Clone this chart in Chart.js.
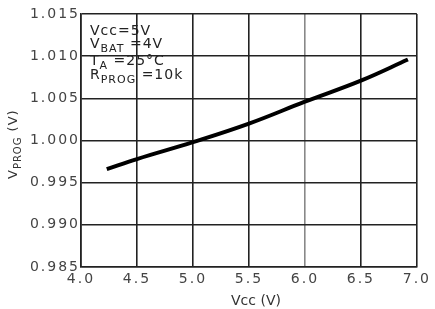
<!DOCTYPE html>
<html><head><meta charset="utf-8">
<script src="https://cdn.jsdelivr.net/npm/chart.js@4"></script>
<style>html,body{margin:0;padding:0;background:#fff}#c{display:block}</style>
</head><body>
<canvas id="c" width="435" height="309"></canvas>
<script>
const vcc = [4.23, 4.5, 5.0, 5.5, 6.0, 6.5, 6.92];
const vprog = [0.9966, 0.9978, 0.9998, 1.0020, 1.0046, 1.0071, 1.0096];
const xTicks = [4.0, 4.5, 5.0, 5.5, 6.0, 6.5, 7.0];
const yTicks = [0.985, 0.990, 0.995, 1.000, 1.005, 1.010, 1.015];
const xTitle = 'Vcc (V)';
const noteLines = [
  [{t:"Vcc=5V"}],
  [{t:"V"},{t:"BAT",s:1},{t:" =4V"}],
  [{t:"T"},{t:"A",s:1},{t:" =25°C"}],
  [{t:"R"},{t:"PROG",s:1},{t:" =10k"}]
];
const spacing = {
  id: 'spacing',
  beforeLayout(chart) { chart.ctx.letterSpacing = '2px'; },
  beforeDraw(chart) { chart.ctx.letterSpacing = '2px'; }
};
const annot = {
  id: 'annot',
  afterDraw(chart) {
    const ctx = chart.ctx, a = chart.chartArea;
    ctx.save();
    ctx.fillStyle = '#222';
    ctx.textBaseline = 'alphabetic';
    ctx.letterSpacing = '1px';
    const ys = [35, 48, 65, 79];
    noteLines.forEach((line, i) => {
      let x = a.left + 9;
      line.forEach(p => {
        ctx.font = p.s ? '11px "DejaVu Sans"' : '14px "DejaVu Sans"';
        ctx.fillText(p.t, x, ys[i] + (p.s ? 4 : 0));
        x += ctx.measureText(p.t).width;
      });
    });
    // x axis title
    ctx.fillStyle = '#333';
    ctx.letterSpacing = '0px';
    ctx.font = '14px "DejaVu Sans"';
    ctx.textAlign = 'center';
    ctx.fillText(xTitle, 256, 305);
    ctx.textAlign = 'left';
    // y axis title
    ctx.letterSpacing = '1px';
    ctx.translate(17, 142);
    ctx.rotate(-Math.PI / 2);
    let x = -37;
    [{t:"V"},{t:"PROG",s:1},{t:" (V)"}].forEach(p => {
      ctx.font = p.s ? '10px "DejaVu Sans"' : '13px "DejaVu Sans"';
      ctx.fillText(p.t, x, p.s ? 4 : 0);
      x += ctx.measureText(p.t).width;
    });
    ctx.restore();
  }
};
new Chart(document.getElementById('c'), {
  type: 'line',
  data: { datasets: [{
    data: vcc.map((v, i) => ({x: v, y: vprog[i]})),
    borderColor: '#000', borderWidth: 4, pointRadius: 0, tension: 0.4, fill: false
  }]},
  options: {
    responsive: false, animation: false,
    layout: { padding: { top: 14, right: 16, left: 0, bottom: 0 } },
    plugins: { legend: { display: false }, tooltip: { enabled: false } },
    scales: {
      x: {
        type: 'linear', min: 4.0, max: 7.0,
        afterBuildTicks: s => { s.ticks = xTicks.map(v => ({value: v})); },
        afterFit: s => { s.height = 42; },
        grid: { color: c => (c.tick && c.tick.value === 6.0) ? '#888' : '#222', lineWidth: 1.6, drawTicks: false },
        border: { color: '#222', width: 1.6 },
        ticks: { color: '#444', padding: 4, font: { family: 'DejaVu Sans', size: 14 },
          callback: v => v.toFixed(1) },
        title: { display: false }
      },
      y: {
        min: 0.985, max: 1.015,
        afterBuildTicks: s => { s.ticks = yTicks.map(v => ({value: v})); },
        afterFit: s => { s.width = 81; },
        grid: { color: '#222', lineWidth: 1.6, drawTicks: false },
        border: { color: '#222', width: 1.6 },
        ticks: { color: '#444', padding: 1, font: { family: 'DejaVu Sans', size: 14 },
          callback: v => v.toFixed(3) }
      }
    }
  },
  plugins: [spacing, annot]
});
</script>
</body></html>
